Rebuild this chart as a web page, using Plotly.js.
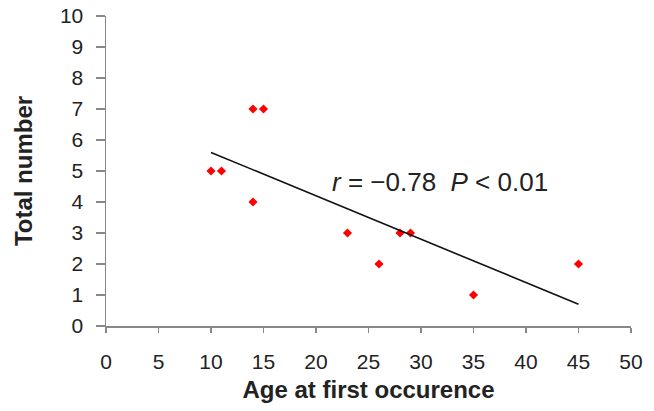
<!DOCTYPE html>
<html><head><meta charset="utf-8">
<script src="https://cdn.plot.ly/plotly-3.0.1.min.js"></script>
<style>html,body{margin:0;padding:0;background:#fff}#c{width:654px;height:411px}</style>
</head><body><div id="c"></div>
<script>
const ageX = [10, 11, 14, 15, 14, 23, 26, 28, 29, 35, 45];
const totalY = [5, 5, 7, 7, 4, 3, 2, 3, 3, 1, 2];
const fitX = [10, 45];
const fitY = [5.6, 0.7];
const xTicks = [0, 5, 10, 15, 20, 25, 30, 35, 40, 45, 50];
const yTicks = [0, 1, 2, 3, 4, 5, 6, 7, 8, 9, 10];
const statText = '<i>r</i> = \u22120.78  <i>P</i> < 0.01';

const F = 'Liberation Sans, Arial, sans-serif';
const data = [
  {x: ageX, y: totalY, mode: 'markers', type: 'scatter',
   marker: {symbol: 'diamond', size: 7, color: '#ff0000'}, hoverinfo: 'none'},
  {x: fitX, y: fitY, mode: 'lines', type: 'scatter',
   line: {color: '#111', width: 1.6}, hoverinfo: 'none'}
];
const layout = {
  width: 654, height: 411, showlegend: false,
  margin: {l: 106, r: 23, t: 16, b: 85},
  paper_bgcolor: '#fff', plot_bgcolor: '#fff',
  font: {family: F, color: '#222'},
  xaxis: {range: [0, 50], tickvals: xTicks, ticktext: xTicks.map(String),
    showgrid: false, zeroline: false, showline: true, linecolor: '#888', linewidth: 1.5,
    ticks: 'outside', ticklen: 5, tickcolor: '#888', tickwidth: 1.5,
    tickfont: {size: 21, family: F, color: '#222'}, ticklabelstandoff: 11,
    title: {text: '<b>Age at first occurence</b>', font: {size: 24, family: F, color: '#222'}, standoff: 9}},
  yaxis: {range: [0, 10], tickvals: yTicks, ticktext: yTicks.map(String),
    showgrid: false, zeroline: false, showline: true, linecolor: '#888', linewidth: 1.5,
    ticks: 'outside', ticklen: 9, tickcolor: '#888', tickwidth: 1.5,
    tickfont: {size: 21, family: F, color: '#222'}, ticklabelstandoff: 8,
    title: {text: '<b>Total number</b>', font: {size: 24, family: F, color: '#222'}, standoff: 20}},
  annotations: [{x: 21.3, y: 4.65, xref: 'x', yref: 'y', xanchor: 'left', yanchor: 'middle',
    text: statText, showarrow: false, font: {size: 26, family: F, color: '#222'}}]
};
Plotly.newPlot('c', data, layout, {staticPlot: true, displayModeBar: false});
</script></body></html>
